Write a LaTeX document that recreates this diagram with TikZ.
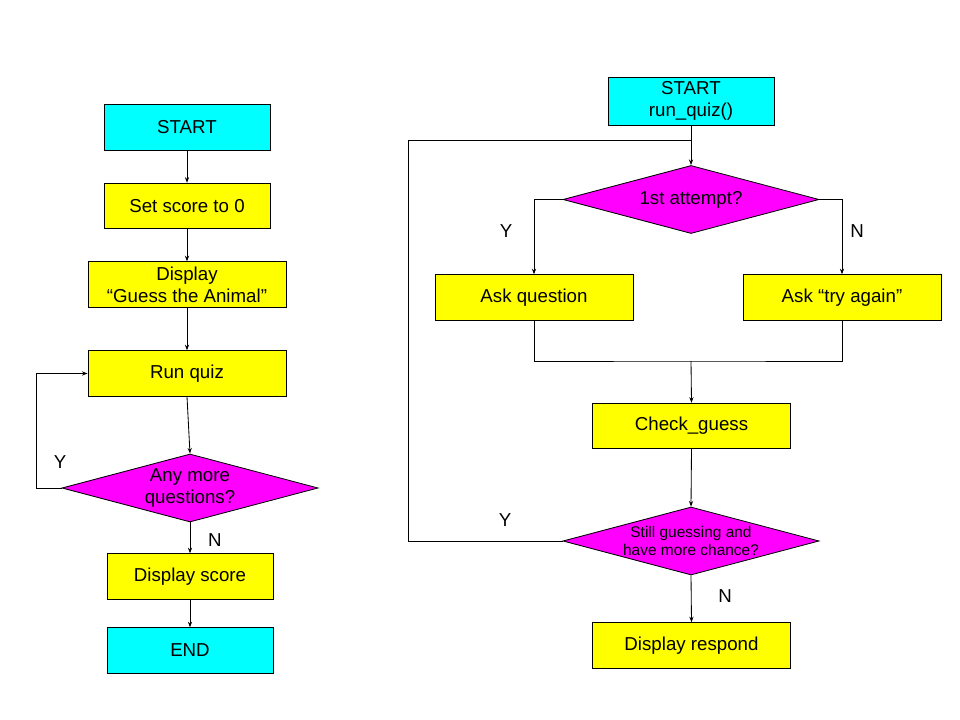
\documentclass[tikz,border=0pt]{standalone}
\usepackage{fontspec}
\setmainfont{Liberation Sans}
\usetikzlibrary{shapes.geometric,arrows.meta}

\definecolor{termcyan}{RGB}{0,255,255}
\definecolor{procyellow}{RGB}{255,255,0}
\definecolor{askmagenta}{RGB}{255,0,255}

\tikzset{
  termbox/.style={draw, fill=termcyan, minimum width=4.15cm, minimum height=1.14cm, align=center},
  procbox/.style={draw, fill=procyellow, minimum width=4.15cm, minimum height=1.14cm, align=center},
  widebox/.style={procbox, minimum width=4.95cm},
  decision/.style={draw, diamond, fill=askmagenta, aspect=3.75, inner sep=0pt,
    minimum width=6.4cm, minimum height=1.7cm, align=center},
  flow/.style={-{Stealth[length=4pt,width=3pt]}},
  lbl/.style={font=\fontsize{13.3}{15}\selectfont}
}

\begin{document}
\begin{tikzpicture}[x=0.025cm, y=-0.025cm, line width=0.6pt,
  font=\fontsize{13.3}{15.5}\selectfont]

\useasboundingbox (0,0) rectangle (960,720);

%%%%%%%%%%%%%%%%%%%%%%%%%%%%%%%%%%%%%%%%%%%%%%%%%%%%%%%%%%%%%%
% MAIN PROGRAM
%%%%%%%%%%%%%%%%%%%%%%%%%%%%%%%%%%%%%%%%%%%%%%%%%%%%%%%%%%%%%%

\node[termbox](start) at (187,127.5) {START};

\node[procbox](setscore) at (187,206) {Set score to 0};

\node[widebox](title) at (187,284.5) {Display\\“Guess the Animal”};

\node[widebox](runquiz) at (187,373.5) {Run quiz};

\node[decision](more) at (190,488) {Any more\\questions?};

\node[procbox](score) at (190,576.5) {Display score};

\node[termbox](stop) at (190,650.5) {END};

\node[lbl](ymore) at (60,462) {Y};
\node[lbl](nmore) at (215,540) {N};

%%%%%%%%%%%%%%%%%%%%%%%%%%%%%%%%%%%%%%%%%%%%%%%%%%%%%%%%%%%%%%
% RUN QUIZ
%%%%%%%%%%%%%%%%%%%%%%%%%%%%%%%%%%%%%%%%%%%%%%%%%%%%%%%%%%%%%%

\node[termbox](qstart) at (691,101) {START\\run\_quiz()};

\node[decision](first) at (691,199.5) {1st attempt?};

\node[widebox](askq) at (534,297.5) {Ask question};

\node[widebox](asktry) at (842,297.5) {Ask “try again”};

\node[widebox](check) at (691.5,426) {Check\_guess};

\node[decision, font=\fontsize{11}{13}\selectfont](chance) at (691,541)
{Still guessing and\\have more chance?};

\node[widebox](respond) at (691.5,645.5) {Display respond};

\node[lbl](yfirst) at (506,231) {Y};
\node[lbl](nfirst) at (857,231) {N};
\node[lbl](ychance) at (505,520) {Y};
\node[lbl](nchance) at (725,596) {N};

\coordinate (merge) at (691,361);
\coordinate (loopcorner) at (408,140);
\coordinate (joint) at (qstart.south |- loopcorner);

%%%%%%%%%%%%%%%%%%%%%%%%%%%%%%%%%%%%%%%%%%%%%%%%%%%%%%%%%%%%%%
% CONNECTIONS
%%%%%%%%%%%%%%%%%%%%%%%%%%%%%%%%%%%%%%%%%%%%%%%%%%%%%%%%%%%%%%

\draw[flow] (start) -- (setscore);
\draw[flow] (setscore) -- (title);
\draw[flow] (title) -- (runquiz);
\draw[flow] (runquiz.south) -- (more.north);
\draw[flow] (more.west) -- ++(-25,0) |- (runquiz.west);
\draw[flow] (more.south) -- (score.north);
\draw[flow] (score) -- (stop);

\draw[flow] (qstart.south) -- (first.north);
\draw[flow] (first.west) -| (askq.north);
\draw[flow] (first.east) -| (asktry.north);
\draw (askq.south) |- (merge) -| (asktry.south);
\draw[flow] (merge) -- (check.north);
\draw[flow] (check.south) -- (chance.north);
\draw (chance.west) -| (loopcorner) -- (joint);
\draw[flow] (chance.south) -- (respond.north);

\end{tikzpicture}
\end{document}
